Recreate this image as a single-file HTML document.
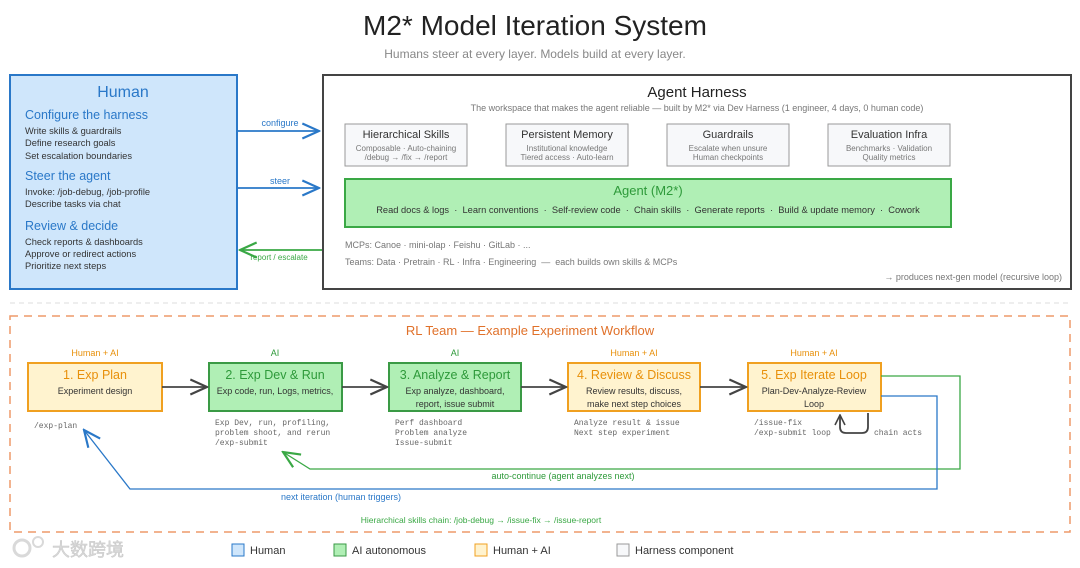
<!DOCTYPE html>
<html><head><meta charset="utf-8"><style>
html,body{margin:0;padding:0;background:#fff;width:1080px;height:568px;overflow:hidden}
text{font-family:"Liberation Sans","Noto Sans CJK SC",sans-serif}
.m{font-family:"Liberation Mono",monospace}
</style></head><body>
<svg width="1080" height="568" viewBox="0 0 1080 568" xmlns="http://www.w3.org/2000/svg">
<defs>
<marker id="ab" viewBox="0 0 12 12" refX="11" refY="6" markerWidth="20" markerHeight="20" markerUnits="userSpaceOnUse" orient="auto"><path d="M1 1.5 L11 6 L1 10.5" fill="none" stroke="#2a78c8" stroke-width="1.3"/></marker>
<marker id="ag" viewBox="0 0 12 12" refX="11" refY="6" markerWidth="20" markerHeight="20" markerUnits="userSpaceOnUse" orient="auto"><path d="M1 1.5 L11 6 L1 10.5" fill="none" stroke="#3aa845" stroke-width="1.3"/></marker>
<marker id="ad" viewBox="0 0 12 12" refX="11" refY="6" markerWidth="20" markerHeight="20" markerUnits="userSpaceOnUse" orient="auto"><path d="M1 1.5 L11 6 L1 10.5" fill="none" stroke="#444" stroke-width="1.3"/></marker>
<marker id="ads" viewBox="0 0 12 12" refX="11" refY="6" markerWidth="12" markerHeight="12" markerUnits="userSpaceOnUse" orient="auto"><path d="M1 1 L11 6 L1 11" fill="none" stroke="#444" stroke-width="1.6"/></marker>
</defs>
<text x="535" y="35" font-size="28" text-anchor="middle" fill="#222">M2* Model Iteration System</text>
<text x="535" y="58" font-size="12" text-anchor="middle" fill="#888">Humans steer at every layer. Models build at every layer.</text>

<!-- Human -->
<rect x="10" y="75" width="227" height="214" fill="#cfe6fb" stroke="#2a78c8" stroke-width="2"/>
<text x="123" y="97" font-size="16" text-anchor="middle" fill="#2a78c8">Human</text>
<g fill="#2a78c8" font-size="12.5">
<text x="25" y="119">Configure the harness</text>
<text x="25" y="180">Steer the agent</text>
<text x="25" y="230">Review &amp; decide</text>
</g>
<g fill="#333" font-size="9.3">
<text x="25" y="134">Write skills &amp; guardrails</text>
<text x="25" y="146">Define research goals</text>
<text x="25" y="159">Set escalation boundaries</text>
<text x="25" y="195">Invoke: /job-debug, /job-profile</text>
<text x="25" y="207">Describe tasks via chat</text>
<text x="25" y="245">Check reports &amp; dashboards</text>
<text x="25" y="257">Approve or redirect actions</text>
<text x="25" y="269">Prioritize next steps</text>
</g>

<!-- arrows top -->
<line x1="237" y1="131" x2="319" y2="131" stroke="#2a78c8" stroke-width="1.8" marker-end="url(#ab)"/>
<text x="280" y="126" font-size="9" text-anchor="middle" fill="#2a78c8">configure</text>
<line x1="237" y1="188" x2="319" y2="188" stroke="#2a78c8" stroke-width="1.8" marker-end="url(#ab)"/>
<text x="280" y="184" font-size="9" text-anchor="middle" fill="#2a78c8">steer</text>
<line x1="323" y1="250" x2="240" y2="250" stroke="#3aa845" stroke-width="1.8" marker-end="url(#ag)"/>
<text x="279" y="260" font-size="8" text-anchor="middle" fill="#3aa845">report / escalate</text>

<!-- Agent Harness -->
<rect x="323" y="75" width="748" height="214" fill="#fff" stroke="#444" stroke-width="2"/>
<text x="697" y="97" font-size="15" text-anchor="middle" fill="#222">Agent Harness</text>
<text x="697" y="111" font-size="9" text-anchor="middle" fill="#777">The workspace that makes the agent reliable — built by M2* via Dev Harness (1 engineer, 4 days, 0 human code)</text>
<g fill="#f7f8fa" stroke="#999" stroke-width="1">
<rect x="345" y="124" width="122" height="42"/><rect x="506" y="124" width="122" height="42"/><rect x="667" y="124" width="122" height="42"/><rect x="828" y="124" width="122" height="42"/>
</g>
<g font-size="11" text-anchor="middle" fill="#333">
<text x="406" y="138">Hierarchical Skills</text><text x="567" y="138">Persistent Memory</text><text x="728" y="138">Guardrails</text><text x="889" y="138">Evaluation Infra</text>
</g>
<g font-size="8" text-anchor="middle" fill="#777">
<text x="406" y="151">Composable · Auto-chaining</text><text x="406" y="160">/debug → /fix → /report</text>
<text x="567" y="151">Institutional knowledge</text><text x="567" y="160">Tiered access · Auto-learn</text>
<text x="728" y="151">Escalate when unsure</text><text x="728" y="160">Human checkpoints</text>
<text x="889" y="151">Benchmarks · Validation</text><text x="889" y="160">Quality metrics</text>
</g>
<rect x="345" y="179" width="606" height="48" fill="#b0efb5" stroke="#3aa845" stroke-width="2"/>
<text x="648" y="195" font-size="13" text-anchor="middle" fill="#2e9a3a">Agent (M2*)</text>
<text x="648" y="213" font-size="9.3" text-anchor="middle" fill="#333" xml:space="preserve">Read docs &amp; logs  ·  Learn conventions  ·  Self-review code  ·  Chain skills  ·  Generate reports  ·  Build &amp; update memory  ·  Cowork</text>
<text x="345" y="248" font-size="9" fill="#777">MCPs: Canoe · mini-olap · Feishu · GitLab · ...</text>
<text x="345" y="265" font-size="9" fill="#777" xml:space="preserve">Teams: Data · Pretrain · RL · Infra · Engineering  —  each builds own skills &amp; MCPs</text>
<text x="1062" y="280" font-size="9" text-anchor="end" fill="#777">→ produces next-gen model (recursive loop)</text>

<line x1="10" y1="303" x2="1070" y2="303" stroke="#ddd" stroke-dasharray="5 4"/>

<!-- RL -->
<rect x="10" y="316" width="1060" height="216" fill="none" stroke="#ee9a6a" stroke-width="1.5" stroke-dasharray="8 6"/>
<text x="530" y="335" font-size="13" text-anchor="middle" fill="#e0712a">RL Team — Example Experiment Workflow</text>

<g font-size="9" text-anchor="middle">
<text x="95" y="356" fill="#e8900a">Human + AI</text>
<text x="275" y="356" fill="#2e9a3a">AI</text>
<text x="455" y="356" fill="#2e9a3a">AI</text>
<text x="634" y="356" fill="#e8900a">Human + AI</text>
<text x="814" y="356" fill="#e8900a">Human + AI</text>
</g>
<rect x="28" y="363" width="134" height="48" fill="#fff3cf" stroke="#f0a020" stroke-width="2"/>
<rect x="209" y="363" width="133" height="48" fill="#b0efb5" stroke="#3a9a45" stroke-width="2"/>
<rect x="389" y="363" width="132" height="48" fill="#b0efb5" stroke="#3a9a45" stroke-width="2"/>
<rect x="568" y="363" width="132" height="48" fill="#fff3cf" stroke="#f0a020" stroke-width="2"/>
<rect x="748" y="363" width="133" height="48" fill="#fff3cf" stroke="#f0a020" stroke-width="2"/>
<g font-size="12.5" text-anchor="middle">
<text x="95" y="379" fill="#e8900a">1. Exp Plan</text>
<text x="275" y="379" fill="#2e9a3a">2. Exp Dev &amp; Run</text>
<text x="455" y="379" fill="#2e9a3a">3.  Analyze &amp; Report</text>
<text x="634" y="379" fill="#e8900a">4. Review &amp; Discuss</text>
<text x="814" y="379" fill="#e8900a">5. Exp Iterate Loop</text>
</g>
<g font-size="9" text-anchor="middle" fill="#333">
<text x="95" y="394">Experiment design</text>
<text x="275" y="394">Exp code, run, Logs, metrics,</text>
<text x="455" y="394">Exp analyze, dashboard,</text><text x="455" y="407">report, issue submit</text>
<text x="634" y="394">Review results, discuss,</text><text x="634" y="407">make next step choices</text>
<text x="814" y="394">Plan-Dev-Analyze-Review</text><text x="814" y="407">Loop</text>
</g>
<g stroke="#444" stroke-width="1.8" fill="none">
<line x1="162" y1="387" x2="207" y2="387" marker-end="url(#ad)"/>
<line x1="342" y1="387" x2="387" y2="387" marker-end="url(#ad)"/>
<line x1="521" y1="387" x2="566" y2="387" marker-end="url(#ad)"/>
<line x1="700" y1="387" x2="746" y2="387" marker-end="url(#ad)"/>
<path d="M868 413 L868 427 Q868 433 862 433 L846 433 Q840 433 840 427 L840 415" marker-end="url(#ads)"/>
</g>
<g class="m" font-size="8" fill="#666">
<text class="m" x="34" y="428">/exp-plan</text>
<text class="m" x="215" y="425">Exp Dev, run, profiling,</text>
<text class="m" x="215" y="435">problem shoot, and rerun</text>
<text class="m" x="215" y="445">/exp-submit</text>
<text class="m" x="395" y="425">Perf dashboard</text>
<text class="m" x="395" y="435">Problem analyze</text>
<text class="m" x="395" y="445">Issue-submit</text>
<text class="m" x="574" y="425">Analyze result &amp; issue</text>
<text class="m" x="574" y="435">Next step experiment</text>
<text class="m" x="754" y="425">/issue-fix</text>
<text class="m" x="754" y="435">/exp-submit loop</text>
<text class="m" x="874" y="435">chain acts</text>
</g>
<path d="M881 376 L960 376 L960 469 L310 469 L283 452" fill="none" stroke="#3aa845" stroke-width="1.3" marker-end="url(#ag)"/>
<text x="563" y="479" font-size="9" text-anchor="middle" fill="#2e9a3a">auto-continue (agent analyzes next)</text>
<path d="M881 396 L937 396 L937 489 L130 489 L84 430" fill="none" stroke="#2a78c8" stroke-width="1.3" marker-end="url(#ab)"/>
<text x="341" y="500" font-size="9" text-anchor="middle" fill="#2a78c8">next iteration (human triggers)</text>
<text x="481" y="523" font-size="8.5" text-anchor="middle" fill="#3aa845">Hierarchical skills chain:  /job-debug → /issue-fix → /issue-report</text>

<!-- legend -->
<rect x="232" y="544" width="12" height="12" fill="#cfe6fb" stroke="#2a78c8"/>
<text x="250" y="554" font-size="11" fill="#333">Human</text>
<rect x="334" y="544" width="12" height="12" fill="#b0efb5" stroke="#3a9a45"/>
<text x="352" y="554" font-size="11" fill="#333">AI autonomous</text>
<rect x="475" y="544" width="12" height="12" fill="#fff3cf" stroke="#f0a020"/>
<text x="493" y="554" font-size="11" fill="#333">Human + AI</text>
<rect x="617" y="544" width="12" height="12" fill="#f7f8fa" stroke="#999"/>
<text x="635" y="554" font-size="11" fill="#333">Harness component</text>

<!-- watermark -->
<g opacity="0.55">
<circle cx="22" cy="548" r="8" fill="none" stroke="#bbb" stroke-width="3"/>
<circle cx="38" cy="542" r="5" fill="none" stroke="#bbb" stroke-width="2"/>
<text x="52" y="556" font-size="18" fill="#bbb" stroke="#999" stroke-width="0.5">大数跨境</text>
</g>
</svg>
</body></html>
